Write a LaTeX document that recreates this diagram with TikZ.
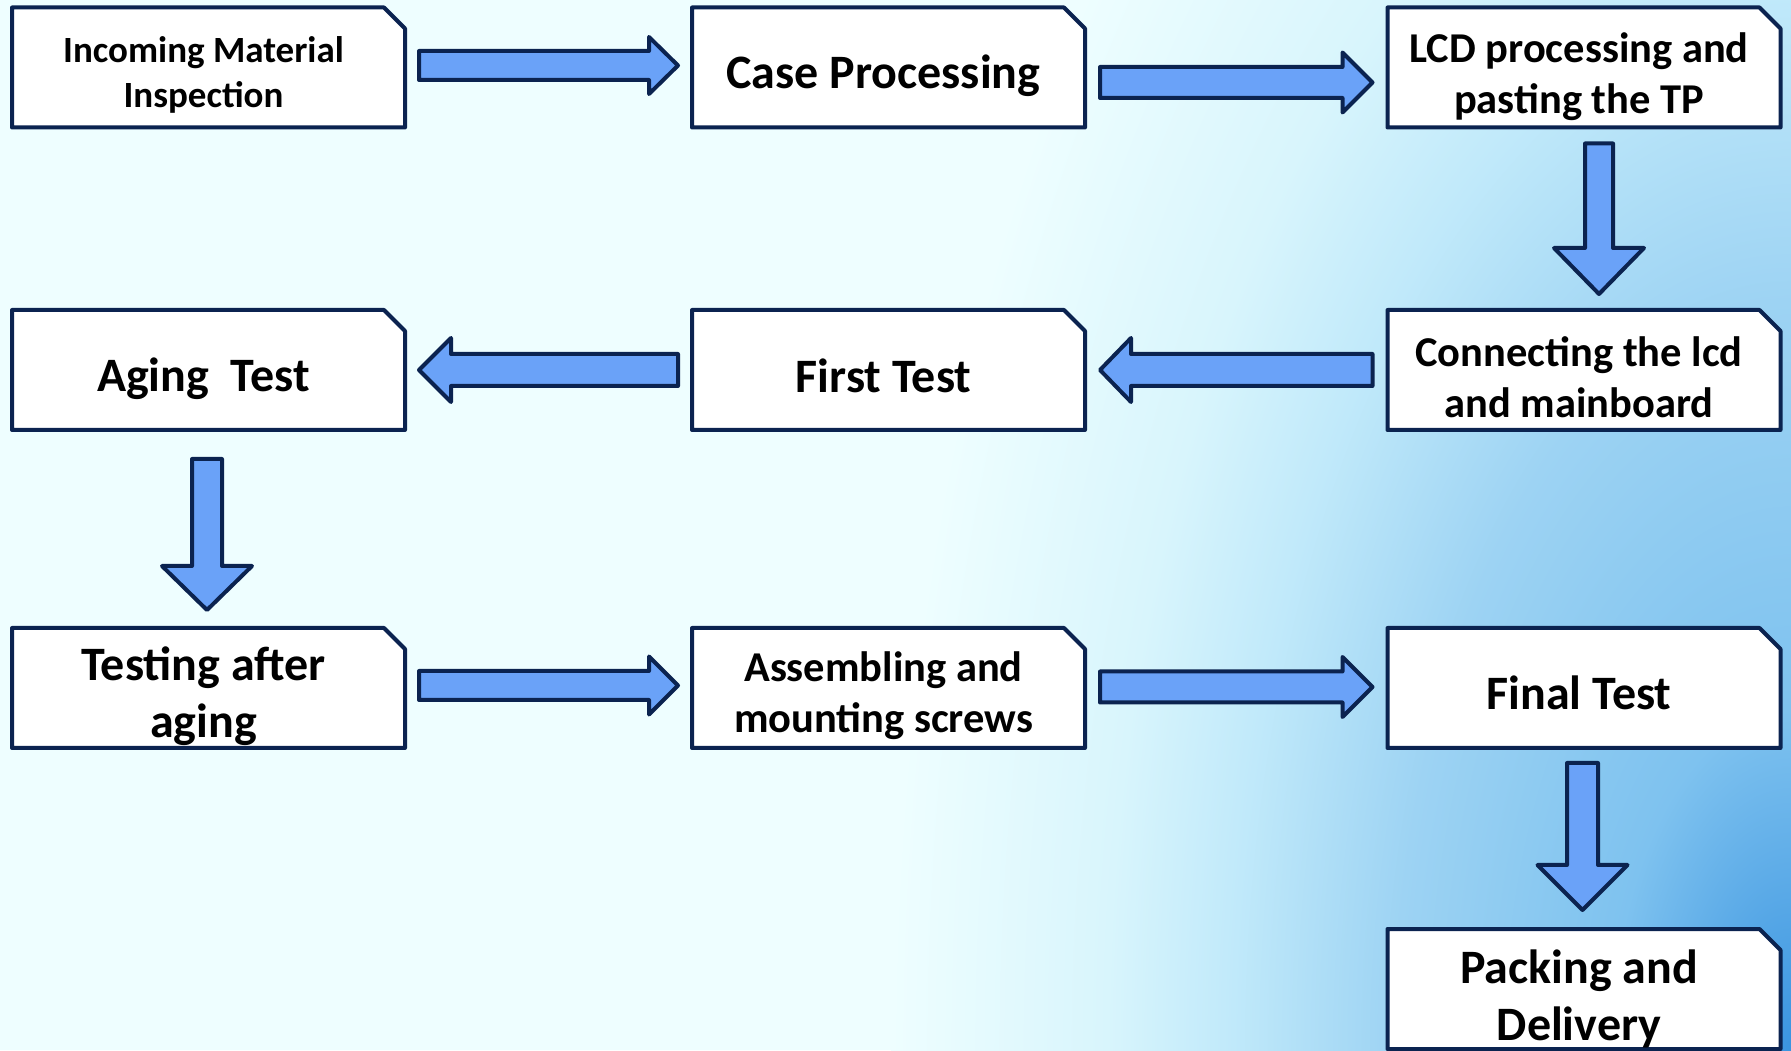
\documentclass[tikz,border=0pt]{standalone}
\usepackage{fontspec}
\setmainfont{Carlito}
\usetikzlibrary{calc}
\definecolor{bdr}{HTML}{0B2350}
\definecolor{afill}{HTML}{6AA2F8}
\definecolor{bgA}{HTML}{3A94E0}
\definecolor{bgB}{HTML}{7EC2EF}
\definecolor{bgC}{HTML}{9DD3F3}
\definecolor{bgD}{HTML}{C0E9FA}
\definecolor{bgE}{HTML}{D8F5FC}
\definecolor{bgF}{HTML}{EEFEFF}
\pgfdeclarelayer{bg}
\pgfdeclarelayer{boxes}
\pgfsetlayers{bg,boxes,main}
\pgfdeclareradialshading{bgrad}{\pgfpoint{0bp}{0bp}}{color(0bp)=(bgA); color(5bp)=(bgB); color(11bp)=(bgC); color(15.5bp)=(bgD); color(19bp)=(bgE); color(25bp)=(bgF); color(50bp)=(bgF)}
\newcommand{\chambox}[1]{%
  \begin{pgfonlayer}{boxes}
  \filldraw[boxline] (#1.south west) -- (#1.north west) -- ($(#1.north east)+(-21,0)$) -- ($(#1.north east)+(0,-21)$) -- (#1.south east) -- cycle;
  \end{pgfonlayer}}
\newcommand{\fatarrow}[5]{%
  \coordinate (fah) at ($(#2)!#5!(#1)$);
  \draw[fatarrowstyle] ($(#1)!#3!90:(#2)$) -- ($(fah)!#3!90:(#2)$) -- ($(fah)!#4!90:(#2)$) -- (#2) -- ($(fah)!#4!-90:(#2)$) -- ($(fah)!#3!-90:(#2)$) -- ($(#1)!#3!-90:(#2)$) -- cycle;}
\begin{document}
\begin{tikzpicture}[x=1pt,y=1pt,
  boxline/.style={draw=bdr, fill=white, line width=4pt, line join=round},
  fatarrowstyle/.style={draw=bdr, fill=afill, line width=4pt, line join=round},
  stepnode/.style={minimum width=393pt, minimum height=120pt, inner sep=0pt, outer sep=0pt},
  steptext/.style={inner sep=0pt, align=center, text=black},
  fbig/.style={font=\bfseries\fontsize{48}{57}\selectfont},
  fmid/.style={font=\bfseries\fontsize{42.5}{51}\selectfont},
  fsmall/.style={font=\bfseries\fontsize{37}{45}\selectfont}]
\begin{pgfonlayer}{bg}
  \fill[bgF] (0,0) rectangle (1791,1050);
  \begin{scope}
    \clip (0,0) rectangle (1791,1050);
    \shade[shading=bgrad] (1791,0) ellipse (900 and 1700);
  \end{scope}
\end{pgfonlayer}
\useasboundingbox (0,0) rectangle (1791,1050);

\node[stepnode] (n1) at (208.5,982.5) {};
\node[stepnode] (n2) at (888.5,982.5) {};
\node[stepnode] (n3) at (1584,982.5) {};
\node[stepnode] (n4) at (1584,680) {};
\node[stepnode] (n5) at (888.5,680) {};
\node[stepnode] (n6) at (208.5,680) {};
\node[stepnode] (n7) at (208.5,362) {};
\node[stepnode] (n8) at (888.5,362) {};
\node[stepnode] (n9) at (1584,362) {};
\node[stepnode] (n10) at (1584,61) {};
\foreach \n in {n1,n2,n3,n4,n5,n6,n7,n8,n9,n10} {\chambox{\n}}

\node[steptext,fsmall] (t1) at ($(n1.center)+(-5,-7)$) {Incoming Material\\Inspection};
\node[steptext,fbig]   (t2) at ($(n2.center)+(-5,-8)$) {Case Processing};
\node[steptext,fmid]   (t3) at ($(n3.center)+(-5,-9)$) {LCD processing and\\pasting the TP};
\node[steptext,fmid]   (t4) at ($(n4.center)+(-5,-7)$) {Connecting the lcd\\and mainboard};
\node[steptext,fbig]   (t5) at ($(n5.center)+(-5,-6)$) {First Test};
\node[steptext,fbig]   (t6) at ($(n6.center)+(-5,-9)$) {Aging\ \ Test};
\node[steptext,fbig]   (t7) at ($(n7.center)+(-5,-8)$) {Testing after\\aging};
\node[steptext,fmid]   (t8) at ($(n8.center)+(-5,-8)$) {Assembling and\\mounting screws};
\node[steptext,fbig]   (t9) at ($(n9.center)+(-5,-5)$) {Final Test};
\node[steptext,fbig]   (t10) at ($(n10.center)+(-5,-10)$) {Packing and\\Delivery};

\coordinate (a1s) at ($(n1.east)+(14,2)$);
\coordinate (a1e) at ($(n2.west)+(-14,2)$);
\coordinate (a2s) at ($(n2.east)+(15,-15)$);
\coordinate (a2e) at ($(n3.west)+(-15,-15)$);
\coordinate (a3s) at ($(n3.south)+(15,-16)$);
\coordinate (a3e) at ($(n4.north)+(15,16)$);
\coordinate (a4s) at ($(n4.west)+(-15,0)$);
\coordinate (a4e) at ($(n5.east)+(15,0)$);
\coordinate (a5s) at ($(n5.west)+(-14,0)$);
\coordinate (a5e) at ($(n6.east)+(14,0)$);
\coordinate (a6s) at ($(n6.south)+(-1.5,-29)$);
\coordinate (a6e) at ($(n7.north)+(-1.5,18)$);
\coordinate (a7s) at ($(n7.east)+(14,2.5)$);
\coordinate (a7e) at ($(n8.west)+(-14,2.5)$);
\coordinate (a8s) at ($(n8.east)+(15,1)$);
\coordinate (a8e) at ($(n9.west)+(-15,1)$);
\coordinate (a9s) at ($(n9.south)+(-1.5,-15)$);
\coordinate (a9e) at ($(n10.north)+(-1.5,19)$);

\fatarrow{a1s}{a1e}{14.5pt}{28.5pt}{29pt}
\fatarrow{a2s}{a2e}{15.5pt}{30pt}{30pt}
\fatarrow{a3s}{a3e}{14pt}{45pt}{46pt}
\fatarrow{a4s}{a4e}{16pt}{32pt}{31pt}
\fatarrow{a5s}{a5e}{16pt}{32pt}{32pt}
\fatarrow{a6s}{a6e}{15pt}{45pt}{44pt}
\fatarrow{a7s}{a7e}{14.5pt}{29pt}{29pt}
\fatarrow{a8s}{a8e}{15.5pt}{30pt}{30pt}
\fatarrow{a9s}{a9e}{15.5pt}{45pt}{45pt}
\end{tikzpicture}
\end{document}
